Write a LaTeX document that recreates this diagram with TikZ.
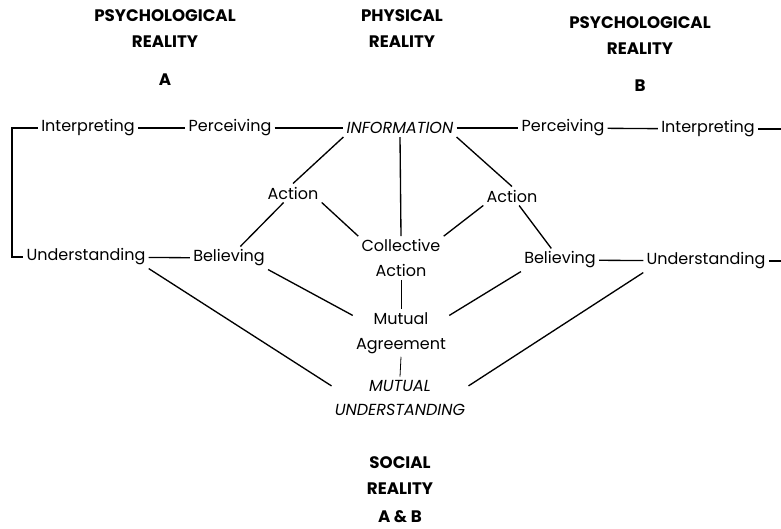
\documentclass[tikz,border=0pt]{standalone}
\usepackage{fontspec}
\setmainfont{Poppins}

\tikzset{every picture/.style={line width=1pt}}
\tikzset{lbl/.style={inner sep=2pt,align=center,font=\fontsize{12}{18.5}\selectfont},
         hdr/.style={inner sep=1pt,align=center,font=\fontsize{12.5}{19.5}\selectfont\bfseries},
         thinline/.style={line width=0.6pt}}

\begin{document}
\begin{tikzpicture}[x=0.75pt,y=0.75pt,yscale=-1,xscale=1]
\useasboundingbox (0,0) rectangle (781,528);

% Text Node
\draw (165,29) node [hdr] (hdA) {PSYCHOLOGICAL\\REALITY};
% Text Node
\draw (165,80) node [hdr] (hdAA) {A};
% Text Node
\draw (402,29) node [hdr] (hdP) {PHYSICAL\\REALITY};
% Text Node
\draw (640,36) node [hdr] (hdB) {PSYCHOLOGICAL\\REALITY};
% Text Node
\draw (640,86) node [hdr] (hdBB) {B};
% Text Node
\draw (400,476) node [hdr] (hdS) {SOCIAL\\REALITY};
% Text Node
\draw (400,517) node [hdr] (hdSS) {A \& B};

% Text Node
\draw (88,128) node [lbl] (intL) {Interpreting};
% Text Node
\draw (230,128) node [lbl] (percL) {Perceiving};
% Text Node
\draw (400,128) node [lbl] (info) {\itshape INFORMATION};
% Text Node
\draw (563,128) node [lbl] (percR) {Perceiving};
% Text Node
\draw (708,129) node [lbl] (intR) {Interpreting};
% Text Node
\draw (293,193) node [lbl] (actL) {Action};
% Text Node
\draw (512,196) node [lbl] (actR) {Action};
% Text Node
\draw (401,258) node [lbl] (coll) {Collective\\Action};
% Text Node
\draw (86,257) node [lbl] (undL) {Understanding};
% Text Node
\draw (229,258) node [lbl] (belL) {Believing};
% Text Node
\draw (560,260) node [lbl] (belR) {Believing};
% Text Node
\draw (706,261) node [lbl] (undR) {Understanding};
% Text Node
\draw (401,333) node [lbl] (mut) {Mutual\\Agreement};
% Text Node
\draw (400,398) node [lbl] (mu) {\itshape MUTUAL\\\itshape UNDERSTANDING};

% Brackets
\coordinate (brL) at (12,128);
\coordinate (brR) at (782,129);
\draw (intL.west) -- (brL) |- (undL.west);
\draw (intR.east) -- (brR) |- (undR.east);

%Straight Lines
\draw (intL) -- (percL);
\draw (percL) -- (info);
\draw (info) -- (percR);
\draw (percR) -- (intR);
\draw (undL) -- (belL);
\draw (belR) -- (undR);
%Straight Lines
\draw (info.south west) -- (actL.north);
\draw (info.south) -- (coll.north);
\draw (info.south east) -- (actR.north);
\draw (actL.south east) -- (coll.north west);
\draw (actR.south west) -- (coll.north east);
\draw (actL) -- (belL);
\draw (actR) -- (belR);
%Straight Lines
\draw (belL.south east) -- (mut.160);
\draw (belR.south west) -- (mut.20);
\draw (undL.south east) -- (mu.170);
\draw (undR.south west) -- (mu.10);
\draw [thinline] (coll.south) -- (mut.north);
\draw [thinline] (mut.south) -- (mu.north);

\end{tikzpicture}
\end{document}
